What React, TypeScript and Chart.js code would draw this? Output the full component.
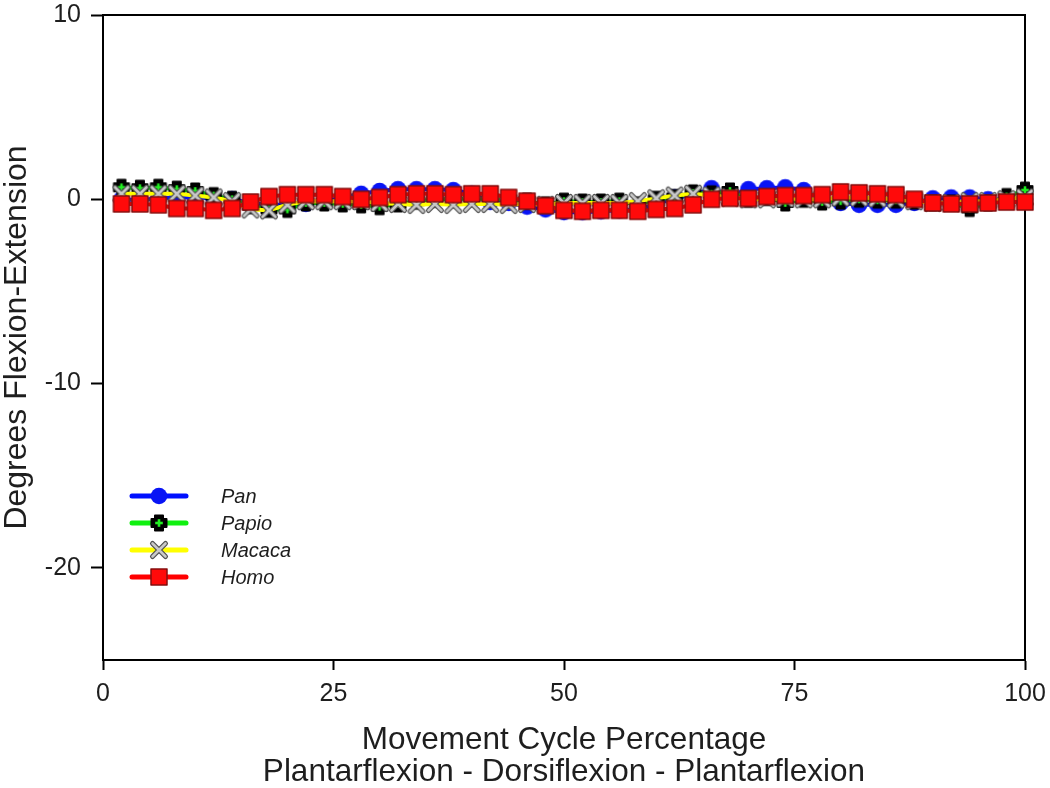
import React, { useEffect, useRef } from 'react';
import { Chart, registerables } from 'chart.js';

Chart.register(...registerables);

const cyclePercent = [2, 4, 6, 8, 10, 12, 14, 16, 18, 20, 22, 24, 26, 28, 30, 32, 34, 36, 38, 40, 42, 44, 46, 48, 50, 52, 54, 56, 58, 60, 62, 64, 66, 68, 70, 72, 74, 76, 78, 80, 82, 84, 86, 88, 90, 92, 94, 96, 98, 100];

const panValues = [0.0, -0.05, 0.05, 0.1, 0.1, 0.05, 0.0, -0.2, -0.3, -0.3, -0.25, -0.1, 0.1, 0.3, 0.45, 0.55, 0.55, 0.55, 0.5, 0.3, -0.15, -0.2, -0.4, -0.55, -0.7, -0.7, -0.65, -0.6, -0.55, -0.3, 0.1, 0.2, 0.6, 0.2, 0.55, 0.6, 0.65, 0.5, -0.1, -0.2, -0.3, -0.3, -0.3, -0.2, 0.05, 0.1, 0.1, 0.0, -0.05, 0.0];

const papioValues = [0.65, 0.6, 0.65, 0.55, 0.45, 0.2, 0.0, -0.35, -0.55, -0.55, -0.2, -0.2, -0.25, -0.3, -0.4, -0.25, -0.1, 0.0, 0.0, 0.05, 0.0, 0.0, -0.1, -0.3, -0.1, -0.15, -0.15, -0.1, -0.3, 0.0, 0.1, 0.35, 0.3, 0.45, 0.0, 0.1, -0.2, 0.0, -0.15, -0.1, 0.0, -0.05, -0.05, -0.1, -0.2, -0.2, -0.5, -0.2, 0.15, 0.5];

const macacaValues = [0.3, 0.3, 0.3, 0.3, 0.2, 0.1, -0.1, -0.55, -0.6, -0.3, -0.1, -0.1, -0.1, -0.1, -0.2, -0.25, -0.3, -0.25, -0.3, -0.25, -0.25, -0.3, -0.25, -0.3, -0.2, -0.2, -0.2, -0.2, -0.1, 0.05, 0.2, 0.3, 0.2, 0.1, 0.0, 0.0, 0.05, 0.0, 0.0, 0.1, 0.1, 0.05, 0.0, -0.1, -0.2, -0.2, -0.1, -0.1, 0.0, 0.1];

const homoValues = [-0.25, -0.25, -0.3, -0.5, -0.5, -0.6, -0.5, -0.15, 0.15, 0.25, 0.25, 0.25, 0.15, 0.0, 0.1, 0.25, 0.3, 0.3, 0.25, 0.3, 0.3, 0.1, -0.1, -0.35, -0.6, -0.65, -0.6, -0.6, -0.65, -0.55, -0.5, -0.3, 0.0, 0.05, 0.05, 0.15, 0.2, 0.2, 0.25, 0.4, 0.35, 0.3, 0.25, 0.0, -0.2, -0.25, -0.25, -0.2, -0.15, -0.15];

const seriesNames = ['Pan', 'Papio', 'Macaca', 'Homo'];
const lineColors = ['#0010ff', '#10f010', '#ffff00', '#ff0000'];
const xTickValues = [0, 25, 50, 75, 100];
const yTickValues = [10, 0, -10, -20];
const xTitleLines = ['Movement Cycle Percentage', 'Plantarflexion - Dorsiflexion - Plantarflexion'];
const yTitle = 'Degrees Flexion-Extension';

const FONT = "'Liberation Sans', Arial, sans-serif";
const TEXT = '#1e1e1e';

function makeMarker(kind: string): HTMLCanvasElement {
  const s = 22;
  const c = document.createElement('canvas');
  c.width = s;
  c.height = s;
  const g = c.getContext('2d') as CanvasRenderingContext2D;
  const m = s / 2;
  if (kind === 'Pan') {
    g.fillStyle = '#0814f5';
    g.beginPath();
    g.arc(m, m, 8.3, 0, Math.PI * 2);
    g.fill();
  } else if (kind === 'Homo') {
    g.fillStyle = '#ff0a0a';
    g.fillRect(m - 8.5, m - 8.5, 17, 17);
    g.strokeStyle = '#4a1010';
    g.lineWidth = 1;
    g.strokeRect(m - 8, m - 8, 16, 16);
  } else if (kind === 'Papio') {
    g.fillStyle = '#000000';
    g.strokeStyle = '#000000';
    g.lineJoin = 'round';
    g.lineWidth = 2;
    const a = 4;
    const b = 7.5;
    g.beginPath();
    g.moveTo(m - a, m - b);
    g.lineTo(m + a, m - b);
    g.lineTo(m + a, m - a);
    g.lineTo(m + b, m - a);
    g.lineTo(m + b, m + a);
    g.lineTo(m + a, m + a);
    g.lineTo(m + a, m + b);
    g.lineTo(m - a, m + b);
    g.lineTo(m - a, m + a);
    g.lineTo(m - b, m + a);
    g.lineTo(m - b, m - a);
    g.lineTo(m - a, m - a);
    g.closePath();
    g.fill();
    g.stroke();
    g.fillStyle = '#22ee22';
    g.fillRect(m - 1.3, m - 3.8, 2.6, 7.6);
    g.fillRect(m - 3.8, m - 1.3, 7.6, 2.6);
  } else {
    g.lineCap = 'round';
    g.strokeStyle = '#505050';
    g.lineWidth = 5;
    g.beginPath();
    g.moveTo(m - 6.5, m - 6.5);
    g.lineTo(m + 6.5, m + 6.5);
    g.moveTo(m + 6.5, m - 6.5);
    g.lineTo(m - 6.5, m + 6.5);
    g.stroke();
    g.strokeStyle = '#c8c8c8';
    g.lineWidth = 2.6;
    g.stroke();
  }
  return c;
}

export default function App() {
  const ref = useRef<HTMLCanvasElement>(null);

  useEffect(() => {
    if (!ref.current) return;
    const markers = seriesNames.map((n) => makeMarker(n));
    const seriesValues = [panValues, papioValues, macacaValues, homoValues];

    const datasets = seriesNames.map((name, i) => ({
      label: name,
      data: cyclePercent.map((x, j) => ({ x, y: seriesValues[i][j] })),
      borderColor: lineColors[i],
      backgroundColor: lineColors[i],
      borderWidth: 4,
      pointStyle: markers[i] as any,
      pointRadius: 8,
      pointHoverRadius: 8,
      tension: 0,
      clip: false as any,
      order: 3 - i,
    }));

    const framePlugin = {
      id: 'frame',
      beforeDatasetsDraw(chart: any) {
        const { ctx, chartArea } = chart;
        ctx.save();
        ctx.strokeStyle = '#000';
        ctx.lineWidth = 2;
        ctx.beginPath();
        ctx.moveTo(chartArea.left, chartArea.top);
        ctx.lineTo(chartArea.right, chartArea.top);
        ctx.lineTo(chartArea.right, chartArea.bottom);
        ctx.stroke();
        ctx.restore();
      },
    };

    const legendPlugin = {
      id: 'customLegend',
      afterDraw(chart: any) {
        const { ctx } = chart;
        const rowsY = [496, 523, 550, 577];
        ctx.save();
        seriesNames.forEach((name, i) => {
          const y = rowsY[i];
          ctx.strokeStyle = lineColors[i];
          ctx.lineWidth = 5;
          ctx.lineCap = 'round';
          ctx.beginPath();
          ctx.moveTo(132, y);
          ctx.lineTo(186, y);
          ctx.stroke();
          const mk = markers[i];
          ctx.drawImage(mk, 159 - mk.width / 2, y - mk.height / 2);
          ctx.fillStyle = TEXT;
          ctx.font = `italic 20px ${FONT}`;
          ctx.textAlign = 'left';
          ctx.textBaseline = 'middle';
          ctx.fillText(name, 221, y + 1);
        });
        ctx.restore();
      },
    };

    const chart = new Chart(ref.current, {
      type: 'line',
      data: { datasets },
      plugins: [framePlugin, legendPlugin],
      options: {
        animation: false,
        responsive: false,
        devicePixelRatio: 1,
        layout: { padding: { top: 15, right: 25, left: 0, bottom: 0 } },
        plugins: {
          legend: { display: false },
          tooltip: { enabled: false },
        },
        scales: {
          x: {
            type: 'linear',
            min: 0,
            max: 100,
            afterBuildTicks(scale: any) {
              scale.ticks = xTickValues.map((v) => ({ value: v }));
            },
            afterFit(scale: any) {
              scale.height = 128;
              scale.paddingLeft = 0;
              scale.paddingRight = 0;
            },
            grid: {
              display: true,
              drawOnChartArea: false,
              drawTicks: true,
              tickLength: 10,
              tickWidth: 2,
              tickColor: '#000',
            },
            border: { display: true, color: '#000', width: 2 },
            ticks: {
              color: TEXT,
              font: { family: FONT, size: 25 },
              padding: 9,
              maxRotation: 0,
              autoSkip: false,
            },
            title: {
              display: true,
              text: xTitleLines,
              color: TEXT,
              font: { family: FONT, size: 31.5, lineHeight: 1.0 },
              padding: { top: 0, bottom: 0 },
            },
          },
          y: {
            type: 'linear',
            min: -25,
            max: 10,
            afterBuildTicks(scale: any) {
              scale.ticks = yTickValues.map((v) => ({ value: v }));
            },
            afterFit(scale: any) {
              scale.width = 103;
              scale.paddingTop = 0;
              scale.paddingBottom = 0;
            },
            grid: {
              display: true,
              drawOnChartArea: false,
              drawTicks: true,
              tickLength: 12,
              tickWidth: 2,
              tickColor: '#000',
            },
            border: { display: true, color: '#000', width: 2 },
            ticks: {
              color: TEXT,
              font: { family: FONT, size: 25 },
              padding: 10,
              autoSkip: false,
            },
            title: {
              display: true,
              text: yTitle,
              color: TEXT,
              font: { family: FONT, size: 32, lineHeight: 1.0 },
              padding: { top: 1, bottom: 0 },
            },
          },
        },
      },
    });
    return () => chart.destroy();
  }, []);

  return (
    <div style={{ position: 'absolute', left: 0, top: 0, width: 1050, height: 788, background: '#fff' }}>
      <canvas ref={ref} width={1050} height={788} style={{ display: 'block', width: 1050, height: 788 }} />
    </div>
  );
}
